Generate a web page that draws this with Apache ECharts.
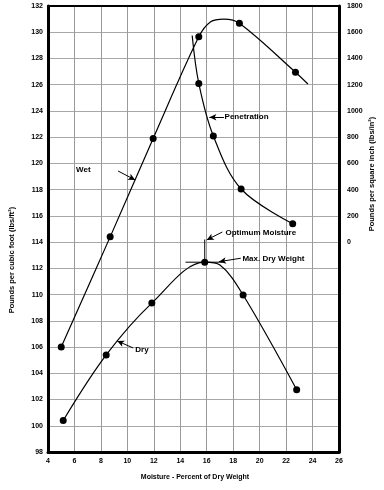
<!DOCTYPE html>
<html><head><meta charset="utf-8">
<script src="https://cdn.jsdelivr.net/npm/echarts@6/dist/echarts.min.js"></script>
<style>html,body{margin:0;padding:0;background:#fff}#c{width:384px;height:490px}</style>
</head><body><div id="c"></div>
<script>
// ---- data ----
// dot flag 0 = point on the drawn curve without a marker
const wetX = [5.0, 8.7, 11.95, 15.4, 16.3, 17.3, 18.47, 22.71, 23.65];
const wetY = [106.0, 114.4, 121.9, 129.65, 130.8, 131.0, 130.68, 126.95, 126.05];
const wetDot = [1, 1, 1, 1, 0, 0, 1, 1, 0];

const penX = [14.9, 15.4, 16.5, 18.6, 22.5];
const penY = [1575, 1210, 809, 405, 140];
const penDot = [0, 1, 1, 1, 1];

const dryX = [5.15, 8.4, 11.85, 15.85, 17.0, 18.75, 22.8];
const dryY = [100.4, 105.4, 109.35, 112.47, 112.25, 109.97, 102.75];
const dryDot = [1, 1, 1, 1, 0, 1, 1];

const maxTangentX = [14.4, 17.2];
const maxTangentY = [112.47, 112.47];
const optLineX = [15.85, 15.85];
const optLineY = [112.47, 114.2];

const xTicks = [4, 26, 2];        // min, max, step
const leftTicks = [98, 132, 2];
const rightTicks = [-1600, 1800, 200];

const F = '"Liberation Sans", Arial, sans-serif';
const tickFont = { fontFamily: F, fontWeight: 'bold', fontSize: 7, color: '#000' };
const annFont = { fontFamily: F, fontWeight: 'bold', fontSize: 8, color: '#000' };

function pts(xs, ys, dots) {
  return xs.map((x, i) => dots[i] ? [x, ys[i]] : { value: [x, ys[i]], symbol: 'none' });
}
function pair(xs, ys) { return xs.map((x, i) => [x, ys[i]]); }

function arrow(x1, y1, x2, y2) {
  return [{ coord: [x1, y1], symbol: 'none' }, { coord: [x2, y2], symbol: 'arrow', symbolSize: [5, 7] }];
}
function label(x, y, text, pos) {
  return { coord: [x, y], value: text, symbol: 'circle', symbolSize: 0,
    label: { show: true, position: pos || 'right', distance: 0, formatter: text, ...annFont } };
}
const lineStyle = { color: '#000', width: 1.2 };
const ml = (data) => ({ silent: true, symbol: ['none', 'arrow'], label: { show: false },
  lineStyle: { color: '#000', width: 1, type: 'solid' }, data });

const chart = echarts.init(document.getElementById('c'), null, { renderer: 'canvas' });
chart.setOption({
  animation: false,
  backgroundColor: '#fff',
  grid: { left: 48, right: 45, top: 6, bottom: 38 },
  xAxis: [{
    type: 'value', min: xTicks[0], max: xTicks[1], interval: xTicks[2],
    axisLine: { show: true, onZero: false, lineStyle: { color: '#000', width: 3 } },
    axisTick: { show: false },
    axisLabel: { ...tickFont, margin: 6 },
    splitLine: { show: true, lineStyle: { color: '#9a9a9a', width: 1 } }
  }, {
    type: 'value', position: 'top', min: xTicks[0], max: xTicks[1],
    axisLine: { show: true, onZero: false, lineStyle: { color: '#000', width: 2 } },
    axisTick: { show: false }, axisLabel: { show: false }, splitLine: { show: false }
  }],
  yAxis: [{
    type: 'value', position: 'left', min: leftTicks[0], max: leftTicks[1], interval: leftTicks[2],
    axisLine: { show: true, onZero: false, lineStyle: { color: '#000', width: 3 } },
    axisTick: { show: false },
    axisLabel: { ...tickFont, margin: 5 },
    splitLine: { show: true, lineStyle: { color: '#a8a8a8', width: 1 } }
  }, {
    type: 'value', position: 'right', min: rightTicks[0], max: rightTicks[1], interval: rightTicks[2],
    axisLine: { show: true, onZero: false, lineStyle: { color: '#000', width: 3 } },
    axisTick: { show: false },
    axisLabel: { ...tickFont, margin: 8, formatter: v => v >= 0 ? String(v) : '' },
    splitLine: { show: false }
  }],
  graphic: [
    { type: 'text', x: 12, y: 260, rotation: Math.PI / 2,
      style: { text: 'Pounds per cubic foot (lbs/ft²)', font: 'bold 7.5px ' + F, fill: '#000', align: 'center', verticalAlign: 'middle' } },
    { type: 'text', x: 372, y: 174, rotation: Math.PI / 2,
      style: { text: 'Pounds per square inch (lbs/in²)', font: 'bold 7.5px ' + F, fill: '#000', align: 'center', verticalAlign: 'middle' } },
    { type: 'text', x: 195, y: 477,
      style: { text: 'Moisture - Percent of Dry Weight', font: 'bold 7px ' + F, fill: '#000', align: 'center', verticalAlign: 'middle' } }
  ],
  series: [
    { name: 'Wet', type: 'line', yAxisIndex: 0, smooth: 0.35, symbol: 'circle', symbolSize: 7,
      itemStyle: { color: '#000' }, lineStyle, data: pts(wetX, wetY, wetDot),
      markLine: ml([arrow(9.3, 119.42, 10.59, 118.74)]),
      markPoint: { silent: true, data: [label(6.12, 119.5, 'Wet')] } },
    { name: 'Penetration', type: 'line', yAxisIndex: 1, smooth: 0.35, symbol: 'circle', symbolSize: 7,
      itemStyle: { color: '#000' }, lineStyle, data: pts(penX, penY, penDot),
      markLine: ml([arrow(17.3, 952, 16.2, 952)]),
      markPoint: { silent: true, data: [label(17.35, 952, 'Penetration')] } },
    { name: 'Dry', type: 'line', yAxisIndex: 0, smooth: 0.35, symbol: 'circle', symbolSize: 7,
      itemStyle: { color: '#000' }, lineStyle, data: pts(dryX, dryY, dryDot),
      markLine: ml([arrow(10.44, 105.93, 9.23, 106.47),
                    arrow(18.57, 112.77, 16.93, 112.51),
                    arrow(17.18, 114.77, 16.0, 114.17)]),
      markPoint: { silent: true, data: [label(10.6, 105.8, 'Dry'),
                                        label(18.7, 112.72, 'Max. Dry Weight'),
                                        label(17.42, 114.72, 'Optimum Moisture')] } },
    { name: 'tangent', type: 'line', yAxisIndex: 0, symbol: 'none', lineStyle: { color: '#000', width: 1 },
      data: pair(maxTangentX, maxTangentY) },
    { name: 'optimum', type: 'line', yAxisIndex: 0, symbol: 'none', lineStyle: { color: '#000', width: 1 },
      data: pair(optLineX, optLineY) }
  ]
});
</script></body></html>
